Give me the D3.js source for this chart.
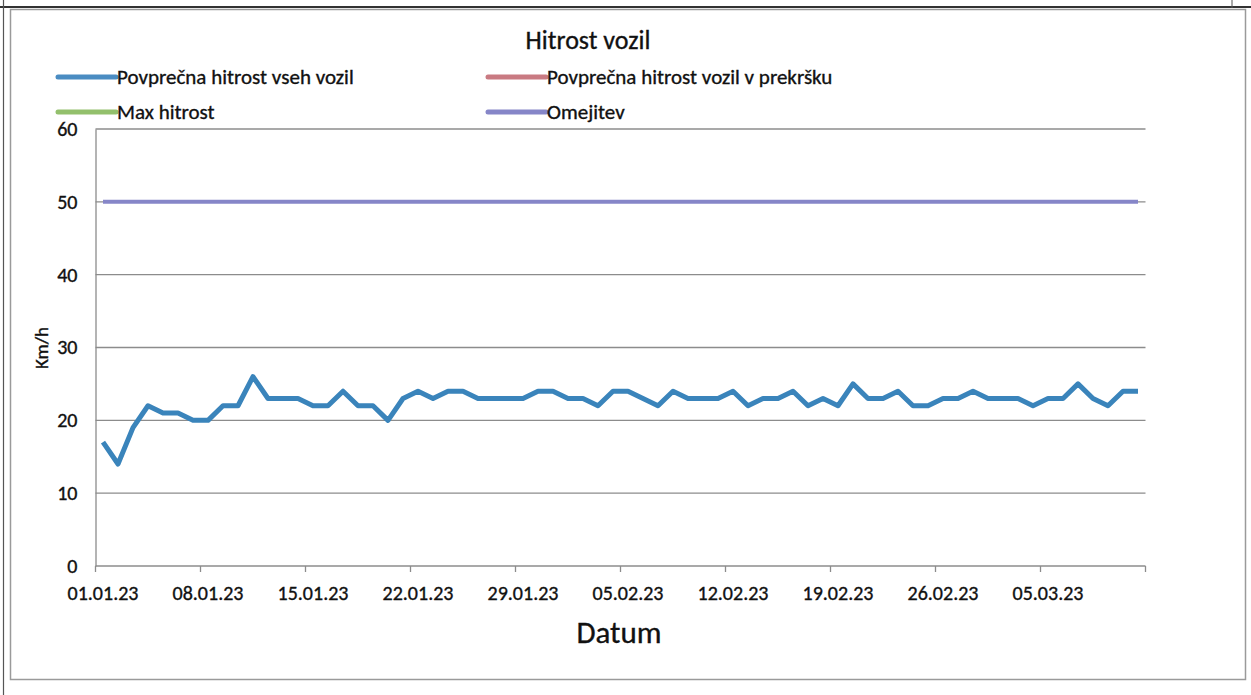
<!DOCTYPE html>
<html>
<head>
<meta charset="utf-8">
<script src="https://cdn.jsdelivr.net/npm/d3@7"></script>
<style>
  html, body { margin: 0; padding: 0; background: #fff; }
  svg { display: block; }
  text { font-family: Carlito, Lato, "Open Sans", sans-serif; fill: #111; stroke: #111; stroke-width: 0.35px; }
</style>
</head>
<body>
<svg id="chart" width="1251" height="695"></svg>
<script>
// Daily dates, 01.01.23 – 11.03.23
const dates = d3.timeDay.range(new Date(2023, 0, 1), new Date(2023, 2, 12));

// Average speed of all vehicles (km/h), one value per day
const avgAll = [
  17, 14, 19, 22, 21, 21, 20, 20, 22, 22,
  26, 23, 23, 23, 22, 22, 24, 22, 22, 20,
  23, 24, 23, 24, 24, 23, 23, 23, 23, 24,
  24, 23, 23, 22, 24, 24, 23, 22, 24, 23,
  23, 23, 24, 22, 23, 23, 24, 22, 23, 22,
  25, 23, 23, 24, 22, 22, 23, 23, 24, 23,
  23, 23, 22, 23, 23, 25, 23, 22, 24, 24
];

// Speed limit (km/h)
const limit = dates.map(() => 50);

// Series with no recorded values in this period
const avgViolators = [];
const maxSpeed = [];

const yTicks = [0, 10, 20, 30, 40, 50, 60];
const legendItems = [
  { name: "Povprečna hitrost vseh vozil", color: "#4a8cc2" },
  { name: "Povprečna hitrost vozil v prekršku", color: "#c97a82" },
  { name: "Max hitrost", color: "#93c06c" },
  { name: "Omejitev", color: "#8686c8" }
];

const fmt = d3.timeFormat("%d.%m.%y");
const svg = d3.select("#chart");

// Page framing lines
svg.append("line").attr("x1", 0).attr("x2", 1251).attr("y1", 7).attr("y2", 7)
  .attr("stroke", "#333").attr("stroke-width", 2);
svg.append("line").attr("x1", 3.5).attr("x2", 3.5).attr("y1", 0).attr("y2", 695)
  .attr("stroke", "#555").attr("stroke-width", 1.2);
svg.append("line").attr("x1", 1232).attr("x2", 1232).attr("y1", 0).attr("y2", 8)
  .attr("stroke", "#555").attr("stroke-width", 1);

// Chart frame
svg.append("rect").attr("x", 10.5).attr("y", 9.5).attr("width", 1235).attr("height", 670)
  .attr("fill", "none").attr("stroke", "#9a9a9a").attr("stroke-width", 1.5);

// Scales
const plot = { left: 95.5, right: 1145.5, top: 129, bottom: 566 };
const x = d3.scaleBand().domain(dates).range([plot.left, plot.right]);
const y = d3.scaleLinear().domain([0, 60]).range([plot.bottom, plot.top]);
const cx = d => x(d) + x.bandwidth() / 2;

// Horizontal gridlines
svg.append("g").selectAll("line").data(yTicks.filter(v => v > 0)).join("line")
  .attr("x1", plot.left).attr("x2", plot.right)
  .attr("y1", d => y(d)).attr("y2", d => y(d))
  .attr("stroke", "#8c8c8c").attr("stroke-width", 1.3);

// Y axis
const yAxis = svg.append("g").attr("transform", `translate(${plot.left},0)`)
  .call(d3.axisLeft(y).tickValues(yTicks).tickSize(0).tickPadding(18));
yAxis.select(".domain").attr("stroke", "#8c8c8c").attr("stroke-width", 1.3);
yAxis.selectAll("text").style("font-size", "20px")
  .style("font-family", "Carlito, Lato, sans-serif").attr("fill", "#111");

// X axis: ticks every 7 days on band edges, labels centred on those days
const weekly = dates.filter((d, i) => i % 7 === 0);
const xAxisG = svg.append("g").attr("transform", `translate(0,${plot.bottom})`);
xAxisG.append("line").attr("x1", plot.left).attr("x2", plot.right)
  .attr("stroke", "#8c8c8c").attr("stroke-width", 1.3);
const tickPos = weekly.map(d => x(d)).concat([plot.right]);
xAxisG.selectAll("line.tick").data(tickPos).join("line").attr("class", "tick")
  .attr("x1", d => d).attr("x2", d => d).attr("y1", 0).attr("y2", 6)
  .attr("stroke", "#8c8c8c").attr("stroke-width", 1.3);
xAxisG.selectAll("text").data(weekly).join("text")
  .attr("x", d => cx(d)).attr("y", 34)
  .attr("text-anchor", "middle").style("font-size", "20px")
  .text(d => fmt(d));

// Axis titles
svg.append("text").attr("transform", `translate(48,348) rotate(-90)`)
  .attr("text-anchor", "middle").style("font-size", "19px").text("Km/h");
svg.append("text").attr("x", 619).attr("y", 643).attr("text-anchor", "middle")
  .style("font-size", "31px").text("Datum");

// Chart title
svg.append("text").attr("x", 588).attr("y", 49).attr("text-anchor", "middle")
  .style("font-size", "26px").text("Hitrost vozil");

// Lines
const line = d3.line().x((v, i) => cx(dates[i])).y(v => y(v));
svg.append("path").datum(limit).attr("d", line).attr("fill", "none")
  .attr("stroke", legendItems[3].color).attr("stroke-width", 4);
svg.append("path").datum(avgViolators).attr("d", line).attr("fill", "none")
  .attr("stroke", legendItems[1].color).attr("stroke-width", 4);
svg.append("path").datum(maxSpeed).attr("d", line).attr("fill", "none")
  .attr("stroke", legendItems[2].color).attr("stroke-width", 4);
svg.append("path").datum(avgAll).attr("d", line).attr("fill", "none")
  .attr("stroke", "#3a84bb").attr("stroke-width", 5).attr("stroke-linejoin", "round");

// Legend
const legendPos = [[58, 77], [488, 77], [58, 112], [488, 112]];
const lg = svg.append("g").selectAll("g").data(legendItems).join("g")
  .attr("transform", (d, i) => `translate(${legendPos[i][0]},${legendPos[i][1]})`);
lg.append("line").attr("x1", 0).attr("x2", 58).attr("y1", 0).attr("y2", 0)
  .attr("stroke", d => d.color).attr("stroke-width", 5).attr("stroke-linecap", "round");
lg.append("text").attr("x", 59).attr("y", 7).style("font-size", "21px").text(d => d.name);
</script>
</body>
</html>
